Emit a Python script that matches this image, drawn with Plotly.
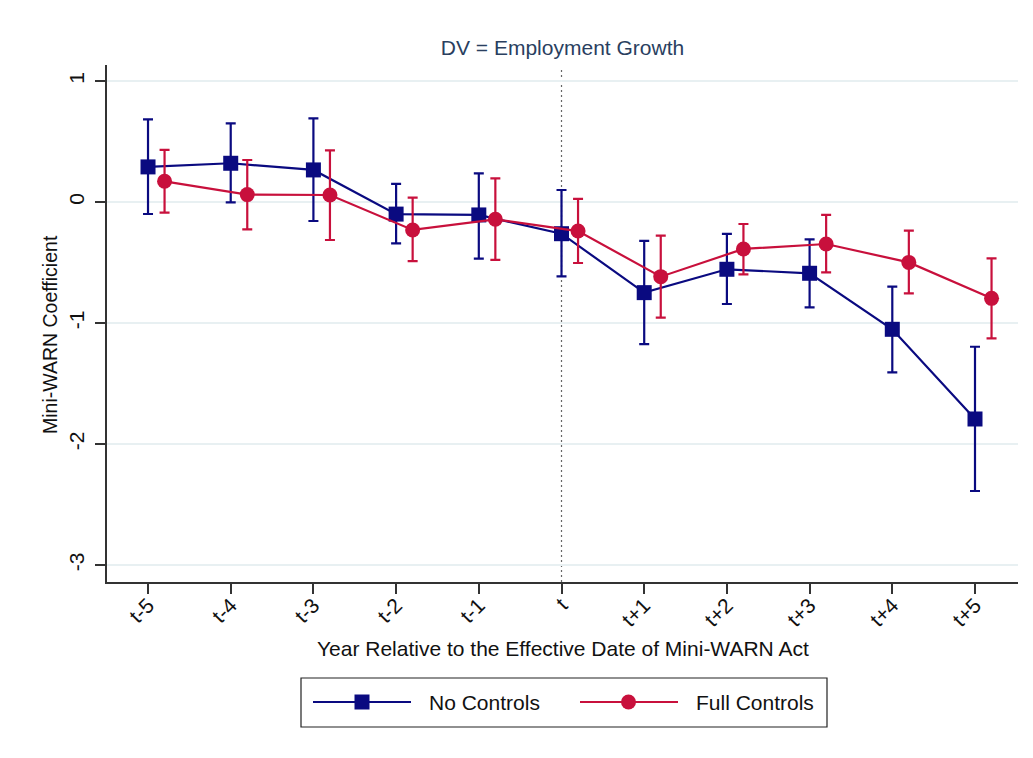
import plotly.graph_objects as go

# Event-time periods relative to the effective date
periods = ["t-5", "t-4", "t-3", "t-2", "t-1", "t", "t+1", "t+2", "t+3", "t+4", "t+5"]
event_period = "t"

# Coefficients and 95% confidence bounds: specification without controls
no_ctrl_coef = [0.29, 0.32, 0.265, -0.10, -0.107, -0.262, -0.749, -0.556, -0.589, -1.052, -1.793]
no_ctrl_lo = [-0.099, -0.003, -0.157, -0.342, -0.468, -0.614, -1.174, -0.843, -0.871, -1.408, -2.388]
no_ctrl_hi = [0.683, 0.650, 0.691, 0.149, 0.237, 0.099, -0.322, -0.264, -0.309, -0.700, -1.196]

# Coefficients and 95% confidence bounds: specification with full controls
full_ctrl_coef = [0.171, 0.061, 0.058, -0.231, -0.143, -0.240, -0.617, -0.388, -0.347, -0.499, -0.796]
full_ctrl_lo = [-0.088, -0.226, -0.314, -0.488, -0.479, -0.504, -0.956, -0.598, -0.581, -0.755, -1.127]
full_ctrl_hi = [0.430, 0.347, 0.427, 0.036, 0.196, 0.025, -0.278, -0.182, -0.107, -0.237, -0.466]

y_ticks = [1, 0, -1, -2, -3]
y_tick_text = ["1", "0", "-1", "-2", "-3"]

NAVY = "#0a0a80"
RED = "#c8103c"
AXIS = "#333333"
TEXT = "#111111"
FONT = "Liberation Sans, Arial, sans-serif"

W, H = 1033, 758
L, R, T, B = 107, 15, 65, 176
PW, PH = W - L - R, H - T - B


def px_x(px):
    return (px - L) / PW


def px_y(py):
    return (H - B - py) / PH


x_no = list(range(len(periods)))
x_full = [x + 0.2 for x in x_no]  # slight horizontal dodge for the second series


def err(coef, lo, hi):
    return dict(type="data", symmetric=False,
                array=[h - c for c, h in zip(coef, hi)],
                arrayminus=[c - l for c, l in zip(coef, lo)],
                thickness=2.2, width=5)


fig = go.Figure()
fig.add_trace(go.Scatter(
    x=x_no, y=no_ctrl_coef, mode="lines+markers", name="No Controls",
    line=dict(color=NAVY, width=2.2),
    marker=dict(symbol="square", size=15, color=NAVY),
    error_y={**err(no_ctrl_coef, no_ctrl_lo, no_ctrl_hi), "color": NAVY},
    showlegend=False,
))
fig.add_trace(go.Scatter(
    x=x_full, y=full_ctrl_coef, mode="lines+markers", name="Full Controls",
    line=dict(color=RED, width=2.2),
    marker=dict(symbol="circle", size=15, color=RED),
    error_y={**err(full_ctrl_coef, full_ctrl_lo, full_ctrl_hi), "color": RED},
    showlegend=False,
))

# Reference lines: zero effect and the event date
fig.add_shape(type="line", xref="paper", yref="y", x0=0, x1=1, y0=0, y1=0,
              line=dict(color=RED, width=2, dash="14px,8px"), layer="below")
fig.add_shape(type="line", xref="x", yref="paper", x0=periods.index(event_period),
              x1=periods.index(event_period), y0=0, y1=0.995,
              line=dict(color="#666666", width=1.2, dash="2px,3px"), layer="below")

# Legend box drawn below the plot
lg_y = 702
fig.add_shape(type="rect", xref="paper", yref="paper",
              x0=px_x(301), x1=px_x(827), y0=px_y(678), y1=px_y(727),
              line=dict(color="#222222", width=1.2), fillcolor="white")
fig.add_shape(type="line", xref="paper", yref="paper",
              x0=px_x(313), x1=px_x(411), y0=px_y(lg_y), y1=px_y(lg_y),
              line=dict(color=NAVY, width=2.2))
fig.add_shape(type="rect", xref="paper", yref="paper",
              x0=px_x(354.5), x1=px_x(369.5), y0=px_y(lg_y - 7.5), y1=px_y(lg_y + 7.5),
              line=dict(width=0), fillcolor=NAVY)
fig.add_shape(type="line", xref="paper", yref="paper",
              x0=px_x(580), x1=px_x(678), y0=px_y(lg_y), y1=px_y(lg_y),
              line=dict(color=RED, width=2.2))
fig.add_shape(type="circle", xref="paper", yref="paper",
              x0=px_x(621), x1=px_x(636), y0=px_y(lg_y - 7.5), y1=px_y(lg_y + 7.5),
              line=dict(width=0), fillcolor=RED)

annotations = [
    dict(text="No Controls", x=px_x(427), y=px_y(lg_y), xanchor="left", yanchor="middle",
         font=dict(size=21, color=TEXT)),
    dict(text="Full Controls", x=px_x(694), y=px_y(lg_y), xanchor="left", yanchor="middle",
         font=dict(size=21, color=TEXT)),
    dict(text="Year Relative to the Effective Date of Mini-WARN Act", x=0.5, y=px_y(648),
         xanchor="center", yanchor="middle", font=dict(size=21, color=TEXT)),
    dict(text="Mini-WARN Coefficient", x=px_x(50), y=px_y(334), textangle=-90,
         xanchor="center", yanchor="middle", font=dict(size=19.5, color=TEXT)),
]
for a in annotations:
    a.update(xref="paper", yref="paper", showarrow=False)

fig.update_layout(
    width=W, height=H, autosize=False,
    margin=dict(l=L, r=R, t=T, b=B),
    paper_bgcolor="white", plot_bgcolor="white",
    font=dict(family=FONT, color=TEXT),
    title=dict(text="DV = Employment Growth", x=0.5, xref="paper", y=1 - 48 / H,
               yref="container", xanchor="center", yanchor="middle",
               font=dict(size=21, color="#2a3f5f", family=FONT)),
    annotations=annotations,
    xaxis=dict(range=[-0.496, 10.52], tickvals=x_no, ticktext=periods, tickangle=-45,
               showgrid=False, zeroline=False, showline=True, linecolor=AXIS, linewidth=1.6,
               ticks="outside", ticklen=10, tickwidth=1.6, tickcolor=AXIS,
               ticklabelstandoff=-9,
               tickfont=dict(size=21, color=TEXT)),
    yaxis=dict(range=[-3.14, 1.132], tickvals=y_ticks, ticktext=y_tick_text, tickangle=-90,
               showgrid=True, gridcolor="#e8f0f2", gridwidth=1.5, zeroline=False,
               showline=True, linecolor=AXIS, linewidth=1.6,
               ticks="outside", ticklen=10, tickwidth=1.6, tickcolor=AXIS,
               ticklabelstandoff=3,
               tickfont=dict(size=21, color=TEXT)),
)

fig.write_html("out.html")
